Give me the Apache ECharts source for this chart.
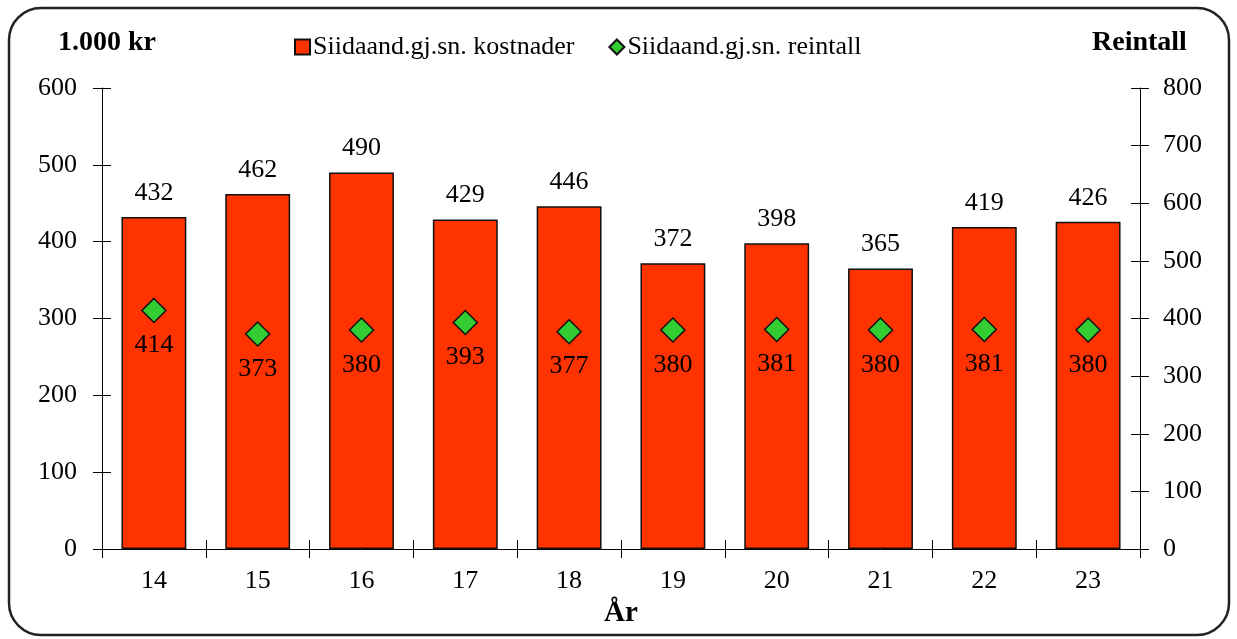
<!DOCTYPE html>
<html>
<head>
<meta charset="utf-8">
<script src="https://cdn.jsdelivr.net/npm/echarts@6/dist/echarts.min.js"></script>
<style>
  html, body { margin: 0; padding: 0; background: #fff; }
</style>
</head>
<body>
<div id="myChartBar" style="width:1237px;height:639px;"></div>
<script>
  // data
  const years = ['14', '15', '16', '17', '18', '19', '20', '21', '22', '23'];
  const kostnader = [432, 462, 490, 429, 446, 372, 398, 365, 419, 426];
  const reintall = [414, 373, 380, 393, 377, 380, 381, 380, 381, 380];
  const leftTicks = { min: 0, max: 600, interval: 100 };
  const rightTicks = { min: 0, max: 800, interval: 100 };

  const font = '"Liberation Serif", "Times New Roman", serif';
  const txt = { color: '#000', fontFamily: font, fontSize: 26 };
  const axisLine = { show: true, lineStyle: { color: '#000', width: 1 } };
  const tickOut = { show: true, length: 9, lineStyle: { color: '#000' } };
  const tickIn = { show: true, inside: true, length: 9, lineStyle: { color: '#000' } };

  let myChart = echarts.init(document.getElementById('myChartBar'));
  myChart.setOption({
    animation: false,
    textStyle: { fontFamily: font },
    grid: { left: 102, right: 97, top: 88, bottom: 90 },
    legend: {
      top: 29,
      left: 289,
      itemGap: 34,
      itemWidth: 15,
      itemHeight: 15,
      textStyle: { color: '#000', fontFamily: font, fontSize: 26, padding: [0, 0, 0, -2] },
      data: [
        { name: 'Siidaand.gj.sn. kostnader', icon: 'rect' },
        { name: 'Siidaand.gj.sn. reintall', icon: 'diamond' }
      ]
    },
    graphic: [
      {
        type: 'rect',
        shape: { x: 9, y: 8, width: 1220, height: 627, r: 32 },
        style: { fill: 'none', stroke: '#222', lineWidth: 2.5 },
        silent: true
      },
      {
        type: 'text', left: 58, top: 29,
        style: { text: '1.000 kr', fill: '#000', font: 'bold 28px ' + font }
      },
      {
        type: 'text', left: 1092, top: 29,
        style: { text: 'Reintall', fill: '#000', font: 'bold 28px ' + font }
      }
    ],
    xAxis: [
      {
        type: 'category',
        data: years,
        name: 'År',
        nameLocation: 'middle',
        nameGap: 41,
        nameTextStyle: { color: '#000', fontFamily: font, fontSize: 29, fontWeight: 'bold' },
        axisLine: axisLine,
        axisTick: tickOut,
        axisLabel: Object.assign({ margin: 19 }, txt),
        splitLine: { show: false }
      },
      {
        // inner half of the crossing ticks
        type: 'category',
        data: years,
        position: 'bottom',
        axisLine: { show: false },
        axisTick: tickIn,
        axisLabel: { show: false },
        splitLine: { show: false }
      }
    ],
    yAxis: [
      {
        type: 'value',
        position: 'left',
        min: leftTicks.min, max: leftTicks.max, interval: leftTicks.interval,
        axisLine: axisLine,
        axisTick: tickOut,
        axisLabel: Object.assign({ margin: 25 }, txt),
        splitLine: { show: false }
      },
      {
        type: 'value',
        position: 'right',
        min: rightTicks.min, max: rightTicks.max, interval: rightTicks.interval,
        axisLine: axisLine,
        axisTick: tickOut,
        axisLabel: Object.assign({ margin: 23 }, txt),
        splitLine: { show: false }
      },
      {
        type: 'value',
        position: 'left',
        min: leftTicks.min, max: leftTicks.max, interval: leftTicks.interval,
        axisLine: { show: false },
        axisTick: tickIn,
        axisLabel: { show: false },
        splitLine: { show: false }
      },
      {
        type: 'value',
        position: 'right',
        min: rightTicks.min, max: rightTicks.max, interval: rightTicks.interval,
        axisLine: { show: false },
        axisTick: tickIn,
        axisLabel: { show: false },
        splitLine: { show: false }
      }
    ],
    series: [
      {
        name: 'Siidaand.gj.sn. kostnader',
        type: 'bar',
        xAxisIndex: 0,
        yAxisIndex: 0,
        barWidth: '62.5%',
        data: kostnader,
        itemStyle: { color: '#FF3300', borderColor: '#111', borderWidth: 1.5 },
        label: Object.assign({ show: true, position: 'top', distance: 11 }, txt)
      },
      {
        name: 'Siidaand.gj.sn. reintall',
        type: 'scatter',
        xAxisIndex: 0,
        yAxisIndex: 1,
        symbol: 'diamond',
        symbolSize: [24, 24],
        data: reintall,
        itemStyle: { color: '#33CC33', borderColor: '#111', borderWidth: 1.5, opacity: 1 },
        label: Object.assign({ show: true, position: 'bottom', distance: 9 }, txt),
        z: 5
      }
    ]
  });
</script>
</body>
</html>
